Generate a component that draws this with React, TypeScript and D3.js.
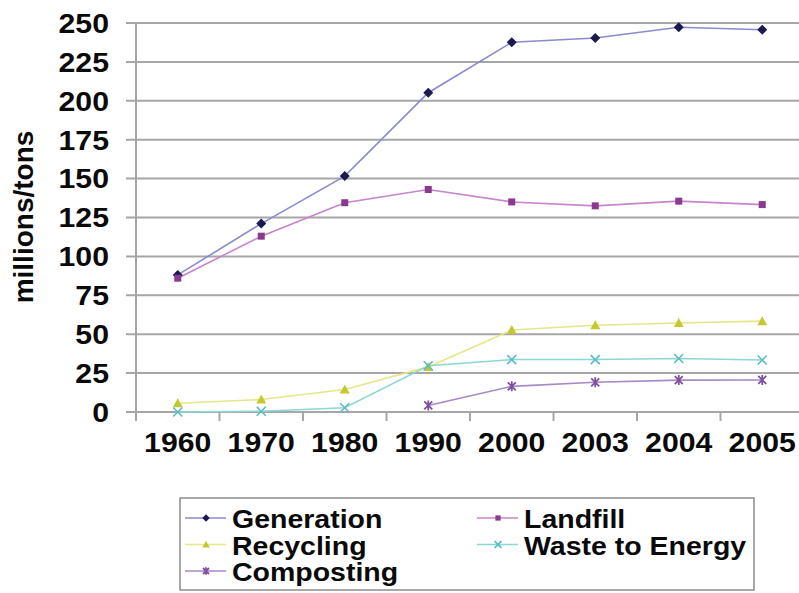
import React from "react";
import * as d3 from "d3";

const years = ["1960", "1970", "1980", "1990", "2000", "2003", "2004", "2005"];
const generation = [88.1, 121.1, 151.6, 205.2, 237.6, 240.4, 247.3, 245.7];
const landfill = [86, 113, 134.5, 143, 135, 132.5, 135.5, 133.3];
const recycling = [5.6, 8.0, 14.5, 29.0, 52.7, 55.8, 57.2, 58.4];
const wasteToEnergy = [0, 0.5, 2.7, 29.7, 33.7, 33.7, 34.4, 33.4];
const composting: (number | null)[] = [null, null, null, 4.2, 16.5, 19.1, 20.5, 20.6];
const yTicks = [0, 25, 50, 75, 100, 125, 150, 175, 200, 225, 250];

type Series = {
  name: string;
  values: (number | null)[];
  line: string;
  marker: string;
  shape: "diamond" | "square" | "triangle" | "x" | "star";
};

const series: Series[] = [
  { name: "Generation", values: generation, line: "#8a8ad0", marker: "#1a1a4e", shape: "diamond" },
  { name: "Landfill", values: landfill, line: "#c884cc", marker: "#8a3a8c", shape: "square" },
  { name: "Recycling", values: recycling, line: "#e6e68a", marker: "#c4c832", shape: "triangle" },
  { name: "Waste to Energy", values: wasteToEnergy, line: "#8cd6d6", marker: "#5cbcc0", shape: "x" },
  { name: "Composting", values: composting, line: "#a888c8", marker: "#8050a0", shape: "star" },
];

const W = 799;
const H = 593;
const x0 = 136;
const band = 83.5;
const FONT = "'Liberation Sans', Arial, Helvetica, sans-serif";

function Marker({ s, cx, cy, k = 1 }: { s: Series; cx: number; cy: number; k?: number }) {
  const c = s.marker;
  switch (s.shape) {
    case "diamond":
      return <path d={`M${cx},${cy - 5 * k}L${cx + 5 * k},${cy}L${cx},${cy + 5 * k}L${cx - 5 * k},${cy}Z`} fill={c} />;
    case "square":
      return <rect x={cx - 3.5 * k} y={cy - 3.5 * k} width={7 * k} height={7 * k} fill={c} />;
    case "triangle":
      return <path d={`M${cx},${cy - 5 * k}L${cx + 5 * k},${cy + 4 * k}L${cx - 5 * k},${cy + 4 * k}Z`} fill={c} />;
    case "x":
      return (
        <path
          d={`M${cx - 4.5 * k},${cy - 4.5 * k}L${cx + 4.5 * k},${cy + 4.5 * k}M${cx + 4.5 * k},${cy - 4.5 * k}L${cx - 4.5 * k},${cy + 4.5 * k}`}
          stroke={c}
          strokeWidth={1.6}
          fill="none"
        />
      );
    case "star":
      return (
        <path
          d={`M${cx - 4 * k},${cy - 4 * k}L${cx + 4 * k},${cy + 4 * k}M${cx + 4 * k},${cy - 4 * k}L${cx - 4 * k},${cy + 4 * k}M${cx},${cy - 5 * k}L${cx},${cy + 5 * k}`}
          stroke={c}
          strokeWidth={1.8}
          fill="none"
        />
      );
  }
  return null;
}

export default function App() {
  const xScale = d3
    .scaleBand<string>()
    .domain(years)
    .range([x0, x0 + band * years.length]);
  const y = d3.scaleLinear().domain([0, 250]).range([412, 23]);
  const cx = (i: number) => (xScale(years[i]) as number) + xScale.bandwidth() / 2;

  const lineGen = d3
    .line<number | null>()
    .defined((d) => d !== null)
    .x((_, i) => cx(i))
    .y((d) => y(d as number));

  const legendItems = [
    { s: series[0], lx: 185, ty: 519 },
    { s: series[1], lx: 477, ty: 519 },
    { s: series[2], lx: 185, ty: 545.5 },
    { s: series[3], lx: 477, ty: 545.5 },
    { s: series[4], lx: 185, ty: 572 },
  ];

  return (
    <svg
      width={W}
      height={H}
      style={{ position: "absolute", left: 0, top: 0, background: "#fff" }}
      fontFamily={FONT}
    >
      <rect x={0} y={0} width={W} height={H} fill="#fff" />
      {yTicks.map((t) => (
        <line key={t} x1={126} x2={W} y1={y(t)} y2={y(t)} stroke="#a6a6a6" strokeWidth={2} />
      ))}
      <line x1={x0} x2={x0} y1={y(250)} y2={421} stroke="#a6a6a6" strokeWidth={2} />
      {years.map((yr) => (
        <line
          key={yr}
          x1={(xScale(yr) as number) + band}
          x2={(xScale(yr) as number) + band}
          y1={412}
          y2={421}
          stroke="#a6a6a6"
          strokeWidth={2}
        />
      ))}
      {yTicks.map((t) => (
        <text
          key={t}
          transform={`translate(109,${y(t) + 9.8}) scale(1.1,1)`}
          textAnchor="end"
          fontWeight="bold"
          fontSize={27.5}
          fill="#0a0a0a"
        >
          {t}
        </text>
      ))}
      {years.map((yr, i) => (
        <text
          key={yr}
          transform={`translate(${cx(i)},452) scale(1.12,1)`}
          textAnchor="middle"
          fontWeight="bold"
          fontSize={27}
          fill="#0a0a0a"
        >
          {yr}
        </text>
      ))}
      <text
        transform={`translate(33,217) rotate(-90)`}
        textAnchor="middle"
        fontWeight="bold"
        fontSize={28}
        fill="#0a0a0a"
      >
        millions/tons
      </text>
      {series.map((s) => (
        <path key={s.name} d={lineGen(s.values) || ""} fill="none" stroke={s.line} strokeWidth={1.6} />
      ))}
      {series.map((s) =>
        s.values.map((v, i) =>
          v === null ? null : <Marker key={s.name + i} s={s} cx={cx(i)} cy={y(v)} />
        )
      )}
      <rect x={180} y={498} width={574} height={92} fill="#fff" stroke="#8c8c8c" strokeWidth={1.5} />
      {legendItems.map(({ s, lx, ty }) => (
        <g key={s.name}>
          <line x1={lx} x2={lx + 41} y1={ty - 1} y2={ty - 1} stroke={s.line} strokeWidth={1.6} />
          <Marker s={s} cx={lx + 21} cy={ty - 1} k={0.75} />
          <text
            transform={`translate(${lx + 47},${ty + 9}) scale(1.14,1)`}
            fontWeight="bold"
            fontSize={25}
            fill="#0a0a0a"
          >
            {s.name}
          </text>
        </g>
      ))}
    </svg>
  );
}
